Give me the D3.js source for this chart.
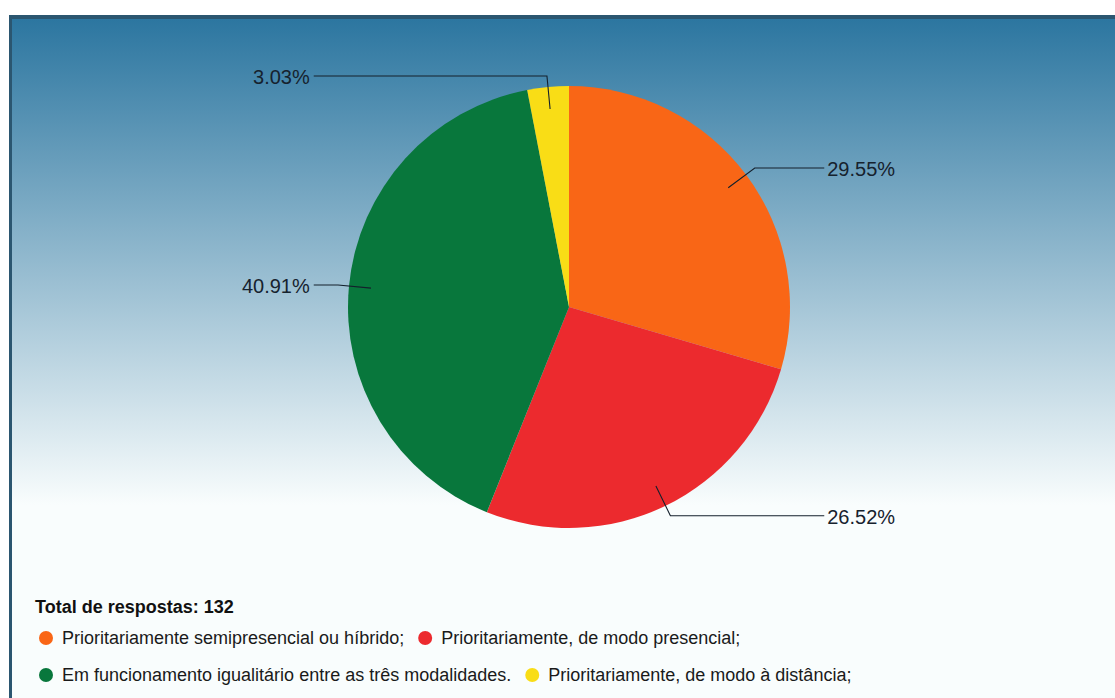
<!DOCTYPE html>
<html><head><meta charset="utf-8">
<script src="https://cdn.jsdelivr.net/npm/d3@7"></script>
<style>
html,body{margin:0;padding:0;background:#fff;}
svg{display:block;}
</style></head>
<body>
<svg id="chart" width="1115" height="698"></svg>
<script>
const categories = [
  "Prioritariamente semipresencial ou híbrido;",
  "Prioritariamente, de modo presencial;",
  "Em funcionamento igualitário entre as três modalidades.",
  "Prioritariamente, de modo à distância;"
];
const counts = [39, 35, 54, 4];
const percentLabels = ["29.55%", "26.52%", "40.91%", "3.03%"];
const colors = ["#f96616", "#ec2a2e", "#08773c", "#f9dd16"];
const legendRows = [[0, 1], [2, 3]];
const totalLabel = "Total de respostas: 132";

const svg = d3.select("#chart");
const W = 1115, H = 698;
const FONT = "Liberation Sans, Arial, sans-serif";

const defs = svg.append("defs");
const grad = defs.append("linearGradient").attr("id","bg")
  .attr("gradientUnits","userSpaceOnUse").attr("x1",0).attr("y1",19).attr("x2",0).attr("y2",505);
grad.append("stop").attr("offset",0).attr("stop-color","#2c76a0");
grad.append("stop").attr("offset",1).attr("stop-color","#f9fdfd");

svg.append("rect").attr("x",9).attr("y",15).attr("width",W-9).attr("height",H-15).attr("fill","#f9fdfd");
svg.append("rect").attr("x",9).attr("y",15).attr("width",W-9).attr("height",505-15).attr("fill","url(#bg)");
// borders
svg.append("rect").attr("x",9).attr("y",15).attr("width",W-9).attr("height",4).attr("fill","#2b5670");
svg.append("rect").attr("x",9).attr("y",15).attr("width",3).attr("height",H-15).attr("fill","#2b5670");

const cx = 569, cy = 307, r = 221;
const pie = d3.pie().sort(null).value(d => d);
const arcs = pie(counts);
const arc = d3.arc().innerRadius(0).outerRadius(r);
const g = svg.append("g").attr("transform", `translate(${cx},${cy})`);
g.selectAll("path.slice").data(arcs).join("path")
  .attr("class","slice")
  .attr("d", arc)
  .attr("fill", (d,i) => colors[i]);

const inner = d3.arc().innerRadius(r*0.9).outerRadius(r*0.9);
const outer = d3.arc().innerRadius(r*1.05).outerRadius(r*1.05);
const labelOffset = r*1.155;

arcs.forEach((d,i) => {
  const p1 = inner.centroid(d);
  const p2 = outer.centroid(d);
  const mid = (d.startAngle + d.endAngle)/2;
  const right = mid < Math.PI;
  const x3 = right ? labelOffset : -labelOffset;
  g.append("polyline")
    .attr("points", [p1, p2, [x3, p2[1]]].map(p => p.join(",")).join(" "))
    .attr("fill","none").attr("stroke","#14202c").attr("stroke-width",1.1);
  g.append("text")
    .attr("x", right ? x3 + 3 : x3 - 4)
    .attr("y", p2[1] + 1)
    .attr("dy","0.35em")
    .attr("text-anchor", right ? "start" : "end")
    .attr("font-family", FONT)
    .attr("font-size", 20)
    .attr("fill","#16222e")
    .text(percentLabels[i]);
});

// legend
svg.append("text").attr("x",35).attr("y",613)
  .attr("font-family", FONT)
  .attr("font-size",18).attr("font-weight","bold").attr("fill","#111")
  .text(totalLabel);

const rowY = [638, 675];
legendRows.forEach((row, ri) => {
  let x = 46;
  row.forEach(i => {
    const y = rowY[ri];
    svg.append("circle").attr("cx",x).attr("cy",y).attr("r",7).attr("fill",colors[i]);
    const t = svg.append("text").attr("x",x+16).attr("y",y).attr("dy","0.35em")
      .attr("font-family", FONT)
      .attr("font-size",18).attr("fill","#1a1a1a")
      .text(categories[i]);
    x = x + 16 + t.node().getComputedTextLength() + 21;
  });
});
</script>
</body></html>
